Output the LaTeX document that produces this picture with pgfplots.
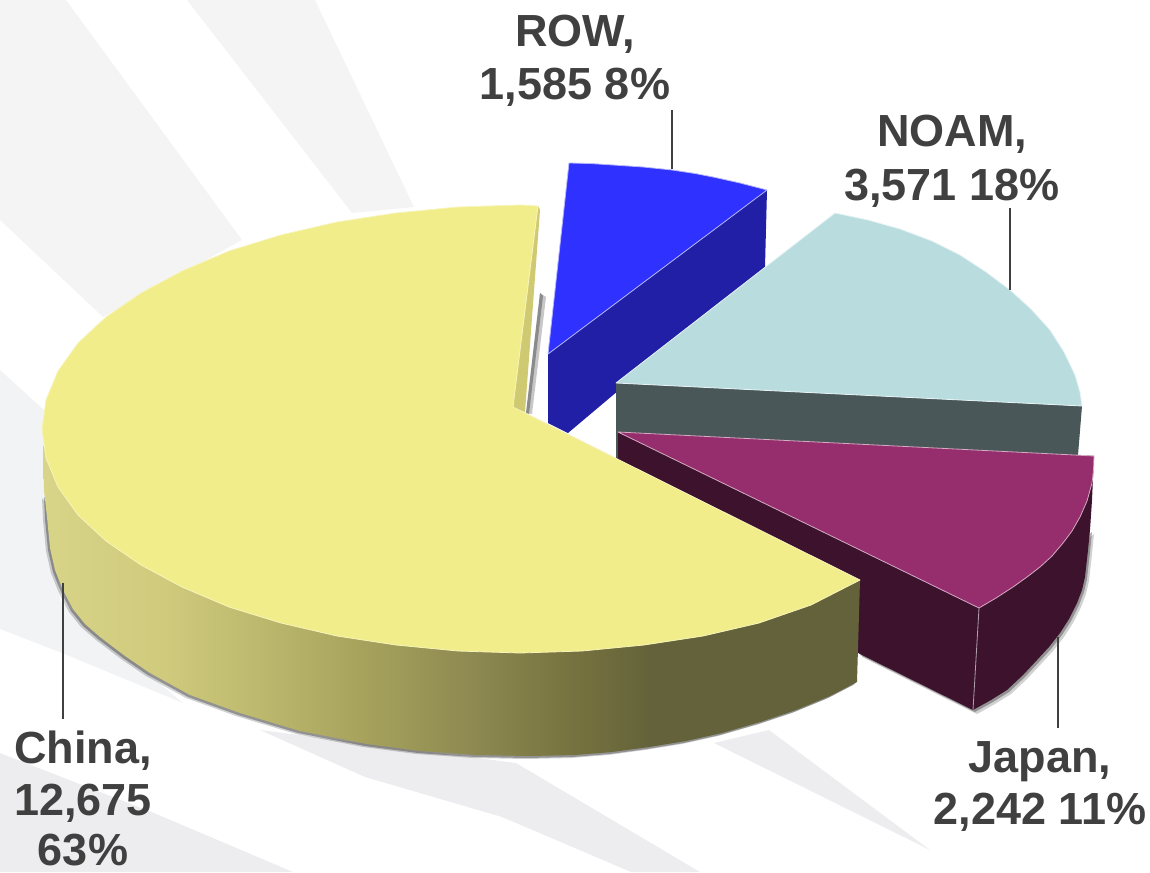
\documentclass[border=0pt]{standalone}
\usepackage{pgfplots}
\usepackage{pgfplotstable}
\pgfplotsset{compat=1.18}
\usepackage{fontspec}
\setmainfont{Liberation Sans}
\definecolor{txt}{HTML}{404040}
\definecolor{chinatop}{HTML}{F1ED8B}
\definecolor{chinasl}{HTML}{CFCA72}
\definecolor{bluetop}{HTML}{2F32FF}
\definecolor{blueside}{HTML}{201FA6}
\definecolor{noamtop}{HTML}{B9DCDF}
\definecolor{noamside}{HTML}{4A5759}
\definecolor{japtop}{HTML}{962D6C}
\definecolor{japside}{HTML}{3D122D}
\definecolor{rayA}{HTML}{F4F4F5}
\definecolor{rayC}{HTML}{F2F3F5}
\definecolor{rayD}{HTML}{EDEDEF}
\definecolor{cs1}{HTML}{D8D488}
\definecolor{cs2}{HTML}{CFCA7C}
\definecolor{cs3}{HTML}{BDB96E}
\definecolor{cs4}{HTML}{A5A15C}
\definecolor{cs5}{HTML}{8C8850}
\definecolor{cs6}{HTML}{76723F}
\definecolor{cs7}{HTML}{64623A}
\pgfdeclarehorizontalshading{chinaside}{100bp}{color(0bp)=(cs1); color(25bp)=(cs1); color(32.5bp)=(cs2); color(38bp)=(cs3); color(45bp)=(cs4); color(51.6bp)=(cs5); color(57.6bp)=(cs6); color(62.2bp)=(cs7); color(100bp)=(cs7)}
% China top face
\pgfplotstableread{
x y
513 407
538 206
520 205
458 207
396 213
337 222
281 235
229 251
182 271
141 293
106 317
78 343
58 371
46 400
42 429
46 458
58 487
78 515
106 541
141 565
182 587
229 607
281 623
337 636
396 645
458 651
520 653
582 651
644 645
703 636
759 623
811 605
860 580
}\chinatoptab
% China rim: the part of the top edge is hidden by the top face
\pgfplotstableread{
x y
43 446
44 490
47 517
50 548
55 570
63 590
73 609
85 624
100 637
125 656
150 673
190 695
240 713
300 731
367 744
420 751
477 755
530 756
575 755
612 752
649 747
686 741
722 733
760 722
796 710
830 696
857 682
860 580
513 407
}\chinasidetab
\pgfplotstableread{
x y
46 495
47 517
50 548
55 570
63 590
73 609
85 624
100 637
125 656
150 673
190 695
240 713
300 731
367 744
420 751
477 755
530 756
575 755
612 752
649 747
686 741
722 733
760 722
796 710
830 696
857 682
857 620
100 560
}\chinashadow
\pgfplotstableread{
x y
538 206
512 407
525 412
540 210
}\chinasliver
% ROW
\pgfplotstableread{
x y
548 354
569 163
590 163.5
613 165
643 167
672 170
695 173.5
713 177
740 183
767 190
}\rowtop
\pgfplotstableread{
x y
548 354
767 190
765 267
568 433
548 423
}\rowside
% NOAM
\pgfplotstableread{
x y
616 383
835 213
868 220
900 229
932 241
960 255
986 272
1010 290
1031 309
1050 330
1064 352
1075 375
1080 392
1082 406
}\noamtoptab
\pgfplotstableread{
x y
616 383
1082 406
1078 455
1078 470
616 470
}\noamsidetab
% Japan
\pgfplotstableread{
x y
618 432
1094 456
1093.5 470
1092 483
1087 501
1080 517
1072 531
1063 543
1052 556
1040 567
1027 577
1013 587
996 598
979 608
}\japtoptab
\pgfplotstableread{
x y
618 432
1094 456
1092 500
1090 530
1088 550
1085 577
1082 590
1077 603
1069 619
1060 633
1049 647
1037 660
1023 675
1007 690
991 700
973 710
858 653
800 620
618 470
}\japsidetab
\pgfplotstableread{
x y
979 608
973 710
}\japseam
\pgfplotstableread{
x y
1090 530
1088 550
1085 577
1082 590
1077 603
1069 619
1060 633
1049 647
1037 660
1023 675
1007 690
991 700
973 710
858 653
858 600
1000 600
}\japshadow
\begin{document}
\begin{tikzpicture}
\begin{axis}[
  scale only axis, width=575pt, height=436pt,
  xmin=0, xmax=1150, ymin=0, ymax=872, y dir=reverse,
  hide axis, clip=true,
  every axis plot/.append style={no markers, line join=round},
]
% background rays
\addplot[fill=rayA, draw=none] coordinates {(0,0)(66,0)(242,240)(103,317)(0,220)} --cycle;
\addplot[fill=rayA, draw=none] coordinates {(187,0)(315,0)(414,207)(352,213)} --cycle;
\addplot[fill=rayC, draw=none] coordinates {(0,370)(44,410)(60,600)(183,703)(62,653)(0,629)} --cycle;
\addplot[fill=rayD, draw=none] coordinates {(0,753)(154,813)(293,872)(0,872)} --cycle;
\addplot[fill=rayD, draw=none] coordinates {(260,730)(516,763)(700,872)(631,872)(502,817)(365,777)} --cycle;
\addplot[fill=rayD, draw=none] coordinates {(714,743)(769,730)(930,850)} --cycle;
% shadows
\addplot[fill=black, fill opacity=.22, draw=none] coordinates {(540,293)(546,297)(532,414)(526,413)} --cycle;
\addplot[fill=black, fill opacity=.3, draw=none] coordinates {(540,293)(543,296)(529,414)(526,413)} --cycle;
\addplot[fill=black, fill opacity=.18, draw=none, xshift=2pt, yshift=-2pt] table {\japshadow} --cycle;
\addplot[fill=black, fill opacity=.3, draw=none, xshift=1pt, yshift=-1pt] table {\japshadow} --cycle;
\addplot[fill=black, fill opacity=.18, draw=none, xshift=-2pt, yshift=-1.5pt] table {\chinashadow} --cycle;
\addplot[fill=black, fill opacity=.3, draw=none, xshift=-1pt, yshift=-1pt] table {\chinashadow} --cycle;
% ROW
\addplot[fill=blueside, draw=none] table {\rowside} --cycle;
\addplot[fill=bluetop, draw=white!65!bluetop, line width=.4pt] table {\rowtop} --cycle;
% NOAM
\addplot[fill=noamside, draw=none] table {\noamsidetab} --cycle;
\addplot[fill=noamtop, draw=white!65!noamtop, line width=.4pt] table {\noamtoptab} --cycle;
% Japan
\addplot[fill=japside, draw=none] table {\japsidetab} --cycle;
\addplot[fill=japtop, draw=white!60!japtop, line width=.4pt] table {\japtoptab} --cycle;
\addplot[draw=white!60!japside, line width=.4pt] table {\japseam};
% China
\addplot[fill=chinasl, draw=none] table {\chinasliver} --cycle;
\addplot[shade, shading=chinaside, draw=none] table {\chinasidetab} --cycle;
\addplot[fill=chinatop, draw=white!40!chinatop, line width=.4pt] table {\chinatoptab} --cycle;
% leaders
\addplot[draw=txt, line width=1pt] coordinates {(672,110)(672,169)};
\addplot[draw=txt, line width=1pt] coordinates {(1010,208)(1010,290)};
\addplot[draw=txt, line width=1pt] coordinates {(1058,637)(1058,728)};
\addplot[draw=txt, line width=1pt] coordinates {(63,583)(63,719)};
% labels
\tikzset{lab/.style={anchor=base, font=\fontsize{22.5}{27}\selectfont\bfseries, text=txt, inner sep=0pt}}
\node[lab] at (axis cs:575,47) {ROW,};
\node[lab] at (axis cs:575,100) {1,585 8\%};
\node[lab] at (axis cs:952,147) {NOAM,};
\node[lab] at (axis cs:952,200) {3,571 18\%};
\node[lab] at (axis cs:1040,772) {Japan,};
\node[lab] at (axis cs:1040,824) {2,242 11\%};
\node[lab] at (axis cs:83,763) {China,};
\node[lab] at (axis cs:83,815) {12,675};
\node[lab] at (axis cs:83,865) {63\%};
\end{axis}
\pgfresetboundingbox
\useasboundingbox (0,0) rectangle (575pt,436pt);
\end{tikzpicture}
\end{document}
